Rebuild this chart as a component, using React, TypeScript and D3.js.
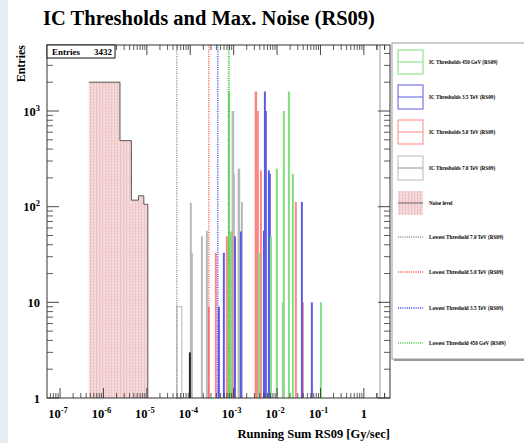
import React from 'react';
import * as d3 from 'd3';

const W = 524;
const H = 443;

// Noise level histogram (variable bins)
const noiseEdges = [4.6e-7, 2.4e-6, 4.4e-6, 6.4e-6, 8.5e-6, 1.05e-5];
const noiseCounts = [2000, 490, 117, 130, 106];

// IC threshold histograms: [bin centre, entries, optional bin width in decades]
type Bin = [number, number, number?];
const gray7TeV: Bin[] = [
  [5.6e-5, 9, 0.115], [1.03e-4, 110], [1.09e-4, 33], [1.85e-4, 49], [2.41e-4, 56],
  [9.6e-4, 1000, 0.06], [1.01e-3, 220], [1.32e-3, 250, 0.06], [1.55e-3, 112], [1.36e-2, 10],
];
const red5TeV: Bin[] = [
  [2.68e-4, 9], [3.89e-4, 33], [6.97e-4, 49], [9.09e-4, 55], [3.25e-3, 1600, 0.055],
  [3.61e-3, 1000], [4.24e-3, 240], [2.71e-2, 112], [3.93e-2, 10],
];
const blue35TeV: Bin[] = [
  [4.56e-4, 9], [5.94e-4, 33], [1.07e-3, 49], [1.47e-3, 55], [4.97e-3, 56], [5.24e-3, 1600],
  [5.52e-3, 1000], [6.47e-3, 240], [6.83e-3, 220], [3.73e-2, 112], [6.34e-2, 10],
];
const green450GeV: Bin[] = [
  [7.75e-4, 1600], [8.62e-4, 55], [3.81e-3, 33], [7.2e-3, 49], [9.89e-3, 250],
  [1.43e-2, 1000], [1.87e-2, 1600], [2.31e-2, 220], [0.102, 10],
];
const darkBins: Bin[] = [[9.8e-5, 3]];

const seriesNames = [
  'IC Thresholds 450 GeV (RS09)',
  'IC Thresholds 3.5 TeV (RS09)',
  'IC Thresholds 5.0 TeV (RS09)',
  'IC Thresholds 7.0 TeV (RS09)',
];
const seriesColors = ['#7ede7e', '#5a5ae2', '#ff8585', '#b8b8b8'];
const seriesLineColors = ['#7ede7e', '#5a5ae2', '#ff8585', '#909090'];

const lowestLabels = [
  'Lowest Threshold 7.0 TeV (RS09)',
  'Lowest Threshold 5.0 TeV (RS09)',
  'Lowest Threshold 3.5 TeV (RS09)',
  'Lowest Threshold 450 GeV (RS09)',
];
const lowestValues = [4.9e-5, 2.68e-4, 4.32e-4, 7.75e-4];
const lowestColors = ['#8a8a8a', '#ff4a4a', '#3a3aff', '#3cc83c'];

const xTickExps = [-7, -6, -5, -4, -3, -2, -1, 0];
const yTickValues = [1, 10, 100, 1000];

const serif = '"Liberation Serif", "DejaVu Serif", serif';

export default function App() {
  const left = 47, right = 390, top = 45, bottom = 398;
  const x = d3.scaleLog().domain([5e-8, 4]).range([left, right]);
  const y = d3.scaleLog().domain([1, 4898]).range([bottom, top]);

  const xMinor: number[] = [];
  for (let e = -8; e <= 0; e++) for (let m = 2; m <= 9; m++) {
    const v = m * Math.pow(10, e);
    if (v > 5e-8 && v < 4) xMinor.push(v);
  }
  for (const m of [2, 3]) xMinor.push(m);
  const yMinor: number[] = [];
  for (let e = 0; e <= 3; e++) for (let m = 2; m <= 9; m++) {
    const v = m * Math.pow(10, e);
    if (v < 4898) yMinor.push(v);
  }

  const noisePath = (() => {
    let p = `M${x(noiseEdges[0])},${y(noiseCounts[0])}`;
    for (let i = 0; i < noiseCounts.length; i++) {
      p += `H${x(noiseEdges[i + 1])}`;
      if (i + 1 < noiseCounts.length) p += `V${y(noiseCounts[i + 1])}`;
    }
    p += `V${bottom}`;
    return p;
  })();
  const noiseArea = d3.area<number>()
    .x((_, i) => x(noiseEdges[i]))
    .y0(bottom)
    .y1((_, i) => y(noiseCounts[Math.min(i, noiseCounts.length - 1)]))
    .curve(d3.curveStepAfter)(noiseEdges.map((e) => e));

  const bins = (data: Bin[], color: string, key: string) =>
    data.map(([c, n, w], i) => {
      const half = (w ?? 0.045) / 2;
      const x0 = x(c * Math.pow(10, -half));
      const x1 = x(c * Math.pow(10, half));
      const wide = x1 - x0 > 3.5;
      return (
        <rect key={key + i} x={x0} y={y(n)} width={x1 - x0} height={bottom - y(n)}
          fill={wide ? 'none' : color} stroke={wide ? color : 'none'} strokeWidth={1} />
      );
    });

  const legendY = [62, 97, 132, 168, 203, 237, 272, 308, 343];
  const axisCol = '#333';

  return (
    <svg width={W} height={H} style={{ position: 'fixed', left: 0, top: 0, background: '#fff' }}
      fontFamily={serif}>
      <defs>
        <pattern id="noisePat" width="3" height="3" patternUnits="userSpaceOnUse">
          <rect width="3" height="3" fill="#f4d4d4" />
          <rect x="0" width="0.8" height="3" fill="#ebc0c0" />
          <rect x="2" y="1" width="1" height="1" fill="#f9e6e6" />
        </pattern>
      </defs>
      <rect x={0} y={0} width={W} height={H} fill="#ffffff" />
      <rect x={0} y={0} width={8} height={H} fill="#e8ecf3" />

      <text x={209} y={25} textAnchor="middle" fontSize={20.5} fontWeight="bold">
        IC Thresholds and Max. Noise (RS09)
      </text>

      {/* noise histogram */}
      <path d={noiseArea ?? ''} fill="url(#noisePat)" />
      <path d={noisePath} fill="none" stroke="#555" strokeWidth={1} />

      {/* threshold histograms */}
      {bins(gray7TeV, seriesColors[3], 'g')}
      {bins(red5TeV, seriesColors[2], 'r')}
      {bins(blue35TeV, seriesColors[1], 'b')}
      {bins(green450GeV, seriesColors[0], 'gr')}
      {bins(darkBins, '#222', 'k')}

      {/* lowest thresholds */}
      {lowestValues.map((v, i) => (
        <line key={'lt' + i} x1={x(v)} x2={x(v)} y1={top} y2={bottom}
          stroke={lowestColors[i]} strokeWidth={i === 3 ? 2 : 1.3} strokeDasharray="1,1.2" />
      ))}

      {/* extra vertical line near right edge */}
      <line x1={380} x2={380} y1={top} y2={bottom} stroke="#999" strokeWidth={1} />

      {/* frame */}
      <rect x={left} y={top} width={right - left} height={bottom - top} fill="none" stroke={axisCol} strokeWidth={1} />

      {/* x ticks */}
      {xTickExps.map((e) => {
        const px = x(Math.pow(10, e));
        return (
          <g key={'xt' + e}>
            <line x1={px} x2={px} y1={bottom} y2={bottom - 10} stroke={axisCol} strokeWidth={0.9} />
            <line x1={px} x2={px} y1={top} y2={top + 10} stroke={axisCol} strokeWidth={0.9} />
            {e === 0 ? (
              <text x={px} y={418} textAnchor="middle" fontSize={12.5} fontWeight="bold">1</text>
            ) : (
              <text x={px - 2} y={418} textAnchor="middle" fontSize={12.5} fontWeight="bold">
                10<tspan fontSize={8.5} dy={-5}>{e}</tspan>
              </text>
            )}
          </g>
        );
      })}
      {xMinor.map((v, i) => (
        <g key={'xm' + i}>
          <line x1={x(v)} x2={x(v)} y1={bottom} y2={bottom - 5} stroke={axisCol} strokeWidth={0.8} />
          <line x1={x(v)} x2={x(v)} y1={top} y2={top + 5} stroke={axisCol} strokeWidth={0.8} />
        </g>
      ))}

      {/* y ticks */}
      {yTickValues.map((v, i) => (
        <g key={'yt' + i}>
          <line x1={left} x2={left + 12} y1={y(v)} y2={y(v)} stroke={axisCol} strokeWidth={0.9} />
          <line x1={right} x2={right - 12} y1={y(v)} y2={y(v)} stroke={axisCol} strokeWidth={0.9} />
          {v < 100 ? (
            <text x={40} y={y(v) + 4.5} textAnchor="end" fontSize={12.5} fontWeight="bold">{v}</text>
          ) : (
            <text x={40} y={y(v) + 4.5} textAnchor="end" fontSize={12.5} fontWeight="bold">
              10<tspan fontSize={8.5} dy={-5}>{Math.round(Math.log10(v))}</tspan>
            </text>
          )}
        </g>
      ))}
      {yMinor.map((v, i) => (
        <g key={'ym' + i}>
          <line x1={left} x2={left + 6} y1={y(v)} y2={y(v)} stroke={axisCol} strokeWidth={0.8} />
          <line x1={right} x2={right - 6} y1={y(v)} y2={y(v)} stroke={axisCol} strokeWidth={0.8} />
        </g>
      ))}

      {/* axis titles */}
      <text x={390} y={438} textAnchor="end" fontSize={12.5} fontWeight="bold">Running Sum RS09 [Gy/sec]</text>
      <text transform={`translate(25,${top}) rotate(-90)`} textAnchor="end" fontSize={12} fontWeight="bold">Entries</text>

      {/* stats box */}
      <rect x={47} y={45} width={68} height={13} fill="#fff" stroke="#111" strokeWidth={1} />
      <text x={52} y={55} fontSize={9} fontWeight="bold">Entries</text>
      <text x={112} y={55} textAnchor="end" fontSize={9} fontWeight="bold">3432</text>

      {/* legend */}
      <rect x={394} y={45} width={140} height={316} fill="#9a9a9a" />
      <rect x={392} y={43} width={140} height={316} fill="#fff" stroke="#9a9a9a" strokeWidth={1} />
      {seriesNames.map((name, i) => (
        <g key={'lg' + i}>
          <rect x={398} y={legendY[i] - 12} width={25} height={24} fill="none" stroke={seriesColors[i]} strokeWidth={1} />
          <line x1={398} x2={423} y1={legendY[i]} y2={legendY[i]} stroke={seriesLineColors[i]} strokeWidth={1} />
          <text x={429} y={legendY[i] + 1.8} fontSize={5.2} fontWeight="bold">{name}</text>
        </g>
      ))}
      <rect x={398} y={legendY[4] - 12} width={25} height={24} fill="url(#noisePat)" />
      <line x1={398} x2={423} y1={legendY[4]} y2={legendY[4]} stroke="#666" strokeWidth={1} />
      <text x={429} y={legendY[4] + 1.8} fontSize={5.2} fontWeight="bold">Noise level</text>
      {lowestLabels.map((name, i) => (
        <g key={'ll' + i}>
          <line x1={398} x2={423} y1={legendY[5 + i]} y2={legendY[5 + i]} stroke={lowestColors[i]}
            strokeWidth={1.3} strokeDasharray="1,1.2" />
          <text x={429} y={legendY[5 + i] + 1.8} fontSize={5.2} fontWeight="bold">{name}</text>
        </g>
      ))}
    </svg>
  );
}
